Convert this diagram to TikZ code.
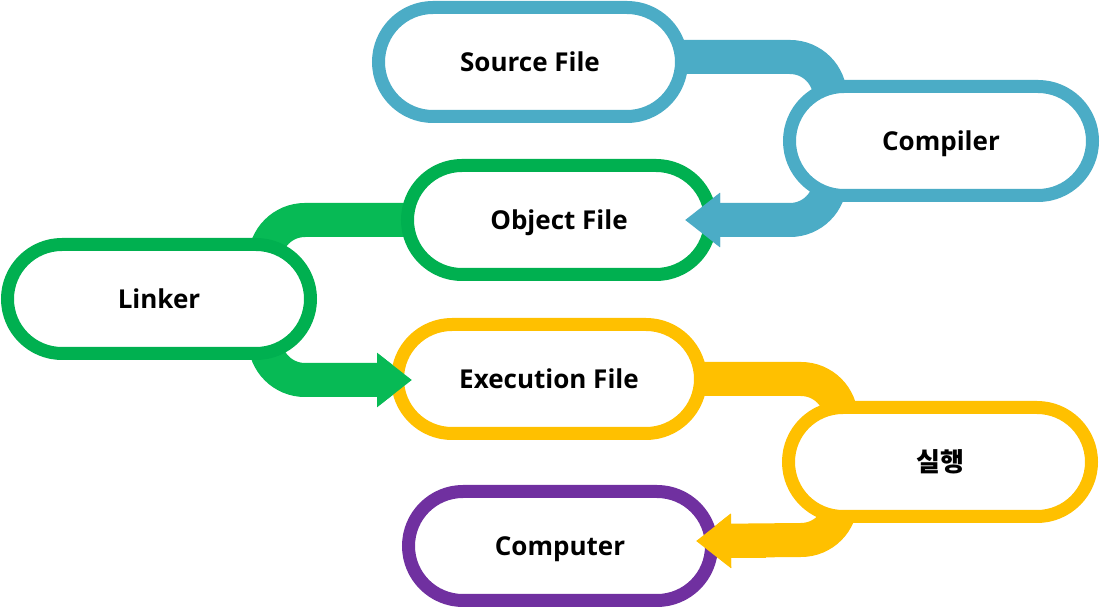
\documentclass[tikz,border=0pt]{standalone}
\usepackage{fontspec}
\setmainfont{Open Sans}
\newfontfamily\krfont{Noto Sans CJK KR}
\usetikzlibrary{arrows.meta,calc}
\pgfdeclarelayer{background}
\pgfdeclarelayer{foreground}
\pgfsetlayers{background,main,foreground}
\definecolor{cblue}{HTML}{4BACC6}
\definecolor{cgreen}{HTML}{00B050}
\definecolor{cgreenband}{HTML}{07BA55}
\definecolor{cyellow}{HTML}{FFC000}
\definecolor{cpurple}{HTML}{7030A0}
\begin{document}
\begin{tikzpicture}[x=1pt,y=1pt,
  pill/.style={draw=#1, line width=13pt, fill=white, rounded corners=54.5pt,
    minimum width=303pt, minimum height=109pt, inner sep=0pt,
    font=\fontsize{26}{30}\selectfont\bfseries, text height=19pt, text depth=0pt},
  band/.style={draw=#1, line width=34pt},
  tipstyle/.style={-{Triangle[length=35pt,width=52pt]}}]
\useasboundingbox (0,0) rectangle (1104,608);

% nodes
\node[pill=cblue]   (src)  at (530,546) {Source File};
\node[pill=cblue]   (comp) at (941,467) {Compiler};
\node[pill=cgreen]  (obj)  at (559,388) {Object File};
\node[pill=cgreen]  (link) at (159,309) {Linker};
\node[pill=cyellow] (exe)  at (549,229) {Execution File};
\node[pill=cyellow] (run)  at (940,146) {\krfont\bfseries 실행};
\node[pill=cpurple] (cpu)  at (560,62)  {Computer};

% arrow tips
\coordinate (t1) at ($(obj.east)+(-32,0)$);
\coordinate (t2) at ($(exe.west)+(21,-1)$);
\coordinate (t3) at ($(cpu.east)+(-22,5)$);

\begin{pgfonlayer}{background}
  \fill[white] (0,0) rectangle (1104,608);
  \draw[band=cblue] ([yshift=5pt]src.center) -- (790,551)
      arc[start angle=90,end angle=0,radius=40] |- (comp.center);
  \draw[band=cblue, tipstyle] (comp.center) -| (830,428)
      arc[start angle=0,end angle=-90,radius=40] -- (t1);
  \draw[band=cgreenband] (obj.center) -- (305,388)
      arc[start angle=90,end angle=180,radius=40] |- (link.center);
  \draw[band=cgreenband, tipstyle] (link.center) -| (265,268)
      arc[start angle=180,end angle=270,radius=40] -- (t2);
  \draw[band=cyellow] (exe.center) -- (801,229)
      arc[start angle=90,end angle=0,radius=40] |- (run.center);
  \draw[band=cyellow, tipstyle] (run.center) -| (841,108)
      arc[start angle=0,end angle=-90,radius=40] -- (t3);
\end{pgfonlayer}

\begin{pgfonlayer}{foreground}
  \draw[band=cblue, tipstyle] ($(t1)+(70,0)$) -- (t1);
  \draw[band=cgreenband, tipstyle] ($(t2)+(-70,0)$) -- (t2);
  \draw[band=cyellow, tipstyle] ($(t3)+(70,0)$) -- (t3);
\end{pgfonlayer}
\end{tikzpicture}
\end{document}
